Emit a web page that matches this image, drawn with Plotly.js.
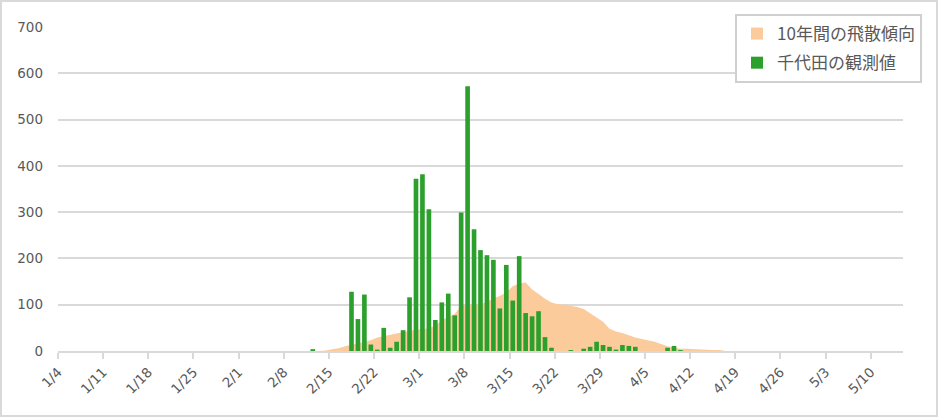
<!DOCTYPE html>
<html>
<head>
<meta charset="utf-8">
<script src="https://cdn.plot.ly/plotly-3.0.1.min.js"></script>
<style>
  html, body { margin: 0; padding: 0; background: #ffffff; }
  #chart { width: 938px; height: 417px; box-sizing: border-box; border: 2px solid #d9d9d9; }
</style>
</head>
<body>
<div id="chart"></div>
<script>
// ---- data (year is arbitrary non-leap year; only month/day are shown) ----
const trendName = "10年間の飛散傾向";
const obsName = "千代田の観測値";

const trendDates = [
  "2021-02-13","2021-02-14","2021-02-15","2021-02-16","2021-02-17","2021-02-18","2021-02-19","2021-02-20",
  "2021-02-21","2021-02-22","2021-02-23","2021-02-24","2021-02-25","2021-02-26","2021-02-27","2021-02-28",
  "2021-03-01","2021-03-02","2021-03-03","2021-03-04","2021-03-05","2021-03-06","2021-03-07","2021-03-08",
  "2021-03-09","2021-03-10","2021-03-11","2021-03-12","2021-03-13","2021-03-14","2021-03-15","2021-03-16",
  "2021-03-17","2021-03-18","2021-03-19","2021-03-20","2021-03-21","2021-03-22","2021-03-23","2021-03-24",
  "2021-03-25","2021-03-26","2021-03-27","2021-03-28","2021-03-29","2021-03-30","2021-03-31","2021-04-01",
  "2021-04-02","2021-04-03","2021-04-04","2021-04-05","2021-04-06","2021-04-07","2021-04-08","2021-04-09",
  "2021-04-10","2021-04-11","2021-04-12","2021-04-13","2021-04-14","2021-04-15","2021-04-16","2021-04-17"
];
const trendValues = [
  0, 1, 4, 6, 10, 13, 16, 19,
  23, 29, 32, 36, 39, 41, 44, 46,
  48, 49, 55, 66, 74, 80, 98, 100,
  100, 101, 106, 114, 119, 127, 140, 146,
  148, 133, 123, 113, 105, 101, 100, 98,
  95, 91, 82, 72, 63, 48, 42, 39,
  34, 29, 26, 23, 20, 15, 10, 7,
  5, 5, 4, 3, 3, 2, 2, 0
];

const obsDates = [
  "2021-02-12","2021-02-18","2021-02-19","2021-02-20","2021-02-21","2021-02-22","2021-02-23","2021-02-24",
  "2021-02-25","2021-02-26","2021-02-27","2021-02-28","2021-03-01","2021-03-02","2021-03-03","2021-03-04",
  "2021-03-05","2021-03-06","2021-03-07","2021-03-08","2021-03-09","2021-03-10","2021-03-11","2021-03-12",
  "2021-03-13","2021-03-14","2021-03-15","2021-03-16","2021-03-17","2021-03-18","2021-03-19","2021-03-20",
  "2021-03-21","2021-03-24","2021-03-26","2021-03-27","2021-03-28","2021-03-29","2021-03-30","2021-03-31",
  "2021-04-01","2021-04-02","2021-04-03","2021-04-08","2021-04-09","2021-04-10"
];
const obsValues = [
  4, 128, 69, 122, 14, 3, 50, 7,
  20, 45, 116, 372, 382, 306, 67, 105,
  124, 77, 299, 572, 263, 218, 207, 197,
  92, 186, 109, 205, 82, 75, 86, 30,
  7, 2, 5, 9, 20, 13, 9, 3,
  13, 11, 9, 7, 11, 2
];

const xStart = "2021-01-04";
const xEnd = "2021-05-15";
const yTicks = [0, 100, 200, 300, 400, 500, 600, 700];

// ---- styling ----
const DAY = 86400000;
const textColor = "#595959";
const gridColor = "#d9d9d9";
const trendColor = "#fbcb9c";
const obsColor = "#2ca02c";
const tickFont = "'DejaVu Sans', sans-serif";
const legendFont = "'Noto Sans CJK JP', sans-serif";

const traces = [
  {
    // filled area: 10-year trend
    type: "scatter",
    name: trendName,
    x: trendDates,
    y: trendValues,
    xperiod: DAY,
    xperiodalignment: "middle",
    mode: "lines",
    fill: "tozeroy",
    fillcolor: trendColor,
    line: { width: 0, color: trendColor },
    showlegend: false,
    legendgroup: "trend",
    xaxis: "x",
    yaxis: "y"
  },
  {
    // legend entry only (square swatch like the reference)
    type: "bar",
    name: trendName,
    x: [null],
    y: [null],
    marker: { color: trendColor },
    legendgroup: "trend",
    legendrank: 1,
    showlegend: true,
    xaxis: "x",
    yaxis: "y"
  },
  {
    type: "bar",
    name: obsName,
    x: obsDates,
    y: obsValues,
    xperiod: DAY,
    xperiodalignment: "middle",
    width: DAY * 0.72,
    marker: { color: obsColor, line: { width: 0 } },
    legendgroup: "obs",
    legendrank: 2,
    xaxis: "x2",
    yaxis: "y2"
  }
];

const commonX = {
  type: "date",
  range: [xStart, xEnd],
  fixedrange: true
};

const layout = {
  width: 934,
  height: 413,
  margin: { l: 56, r: 33, t: 21, b: 64 },
  paper_bgcolor: "#ffffff",
  plot_bgcolor: "rgba(0,0,0,0)",
  font: { family: tickFont, size: 13, color: textColor },
  showlegend: true,
  barmode: "overlay",
  legend: {
    x: 1.0225, y: 1.04, xanchor: "right", yanchor: "top",
    bgcolor: "#ffffff",
    bordercolor: "#d0d0d0",
    borderwidth: 2,
    font: { family: legendFont, size: 17, color: textColor },
    tracegroupgap: 4,
    itemwidth: 30
  },
  xaxis: Object.assign({}, commonX, {
    tick0: xStart,
    dtick: 7 * DAY,
    tickformat: "%-m/%-d",
    tickangle: -45,
    ticks: "outside",
    ticklen: 6,
    tickwidth: 2,
    tickcolor: gridColor,
    showline: true,
    linecolor: gridColor,
    linewidth: 2,
    showgrid: false,
    zeroline: false,
    tickfont: { family: tickFont, size: 13.5, color: textColor }
  }),
  xaxis2: Object.assign({}, commonX, {
    overlaying: "x",
    matches: "x",
    visible: false
  }),
  yaxis: {
    range: [0, 700],
    tickvals: yTicks,
    showgrid: true,
    gridcolor: gridColor,
    gridwidth: 2,
    zeroline: false,
    showline: false,
    ticks: "",
    ticklabelstandoff: 14,
    tickfont: { family: tickFont, size: 13.5, color: textColor },
    fixedrange: true
  },
  yaxis2: {
    range: [0, 700],
    overlaying: "y",
    visible: false,
    fixedrange: true
  }
};

Plotly.newPlot("chart", traces, layout, { displayModeBar: false, staticPlot: true });
</script>
</body>
</html>
